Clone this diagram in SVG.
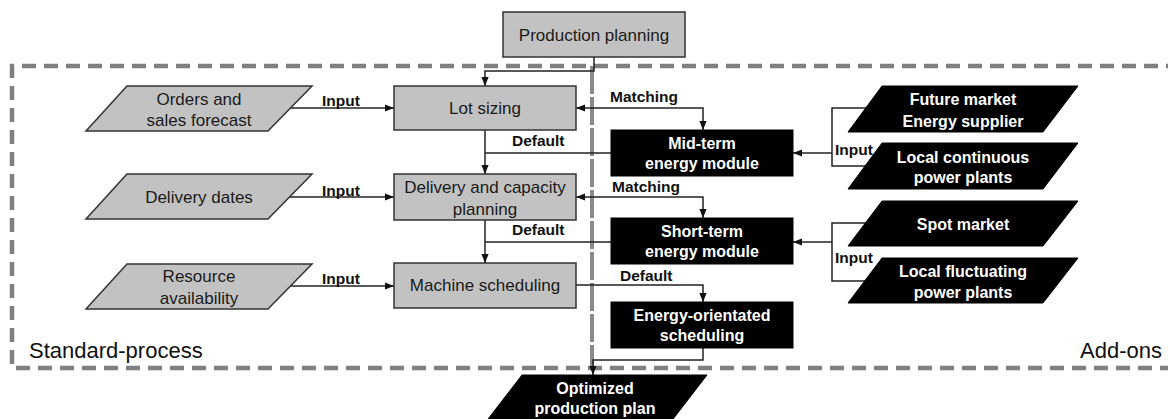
<svg xmlns="http://www.w3.org/2000/svg" width="1168" height="419" viewBox="0 0 1168 419">
<style>
text{font-family:"Liberation Sans",Arial,sans-serif;}
.gbox{fill:#c2c2c2;stroke:#333;stroke-width:1.5;}
.bbox{fill:#000;stroke:#000;stroke-width:1;}
.gt{font-size:17px;fill:#1a1a1a;text-anchor:middle;}
.wt{font-size:16px;font-weight:bold;fill:#fff;text-anchor:middle;}
.lbl{font-size:15.5px;font-weight:bold;fill:#111;}
.big{font-size:22px;fill:#111;}
.con{fill:none;stroke:#222;stroke-width:1.5;}
.dash{fill:none;stroke:#7f7f7f;stroke-width:4.5;stroke-dasharray:14 8;}
.div{fill:none;stroke:#8a8a8a;stroke-width:4;stroke-dasharray:28 3;}
</style>
<defs>
<marker id="arr" viewBox="0 0 10 8" markerWidth="9" markerHeight="8" refX="10" refY="4" orient="auto-start-reverse" markerUnits="userSpaceOnUse">
<path d="M0,0 L10,4 L0,8 z" fill="#111"/>
</marker>
</defs>
<rect width="1168" height="419" fill="#fff"/>
<g id="frame">
<path class="dash" d="M1180,66 H12 V368 H1180"/>
<path class="div" d="M592,66 V368"/>
<text class="big" x="29" y="358">Standard-process</text>
<text class="big" x="1080" y="358">Add-ons</text>
</g>
<g id="connectors">
<path class="con" d="M594,57 V71 H485 V86" marker-end="url(#arr)"/>
<path class="con" d="M290,108 H394" marker-end="url(#arr)"/>
<path class="con" d="M576,108 H703 V130" marker-start="url(#arr)" marker-end="url(#arr)"/>
<path class="con" d="M485,130 V174" marker-end="url(#arr)"/>
<path class="con" d="M611,153 H485"/>
<path class="con" d="M290,197 H394" marker-end="url(#arr)"/>
<path class="con" d="M576,197 H703 V218" marker-start="url(#arr)" marker-end="url(#arr)"/>
<path class="con" d="M485,220 V263" marker-end="url(#arr)"/>
<path class="con" d="M611,242 H485"/>
<path class="con" d="M290,286 H394" marker-end="url(#arr)"/>
<path class="con" d="M576,285 H703 V302" marker-end="url(#arr)"/>
<path class="con" d="M703,348 V360 H593 V375" marker-end="url(#arr)"/>
<path class="con" d="M866,108 H832 V166 H866"/>
<path class="con" d="M832,153 H793" marker-end="url(#arr)"/>
<path class="con" d="M866,223 H832 V281 H866"/>
<path class="con" d="M832,242 H793" marker-end="url(#arr)"/>
<text class="lbl" x="322" y="106">Input</text>
<text class="lbl" x="610" y="102">Matching</text>
<text class="lbl" x="512" y="146">Default</text>
<text class="lbl" x="322" y="196">Input</text>
<text class="lbl" x="612" y="192">Matching</text>
<text class="lbl" x="512" y="235">Default</text>
<text class="lbl" x="322" y="284">Input</text>
<text class="lbl" x="620" y="281">Default</text>
<text class="lbl" x="835" y="155">Input</text>
<text class="lbl" x="835" y="263">Input</text>
</g>
<g id="production-planning">
<rect class="gbox" x="503" y="12" width="182" height="45"/>
<text class="gt" x="594" y="41">Production planning</text>
</g>
<g id="orders">
<polygon class="gbox" points="127,86 312,86 268,131 86,131"/>
<text class="gt" x="199" y="105">Orders and</text>
<text class="gt" x="199" y="126">sales forecast</text>
</g>
<g id="delivery-dates">
<polygon class="gbox" points="127,174 312,174 268,219 86,219"/>
<text class="gt" x="199" y="203">Delivery dates</text>
</g>
<g id="resource">
<polygon class="gbox" points="127,264 312,264 268,309 86,309"/>
<text class="gt" x="199" y="282">Resource</text>
<text class="gt" x="199" y="304">availability</text>
</g>
<g id="lot-sizing">
<rect class="gbox" x="394" y="86" width="182" height="44"/>
<text class="gt" x="485" y="114">Lot sizing</text>
</g>
<g id="delivery-capacity">
<rect class="gbox" x="394" y="174" width="182" height="46"/>
<text class="gt" x="485" y="193">Delivery and capacity</text>
<text class="gt" x="485" y="215">planning</text>
</g>
<g id="machine-scheduling">
<rect class="gbox" x="394" y="263" width="182" height="45"/>
<text class="gt" x="485" y="291">Machine scheduling</text>
</g>
<g id="mid-term">
<rect class="bbox" x="611" y="130" width="182" height="46"/>
<text class="wt" x="702" y="149">Mid-term</text>
<text class="wt" x="702" y="169">energy module</text>
</g>
<g id="short-term">
<rect class="bbox" x="611" y="218" width="182" height="46"/>
<text class="wt" x="702" y="237">Short-term</text>
<text class="wt" x="702" y="257">energy module</text>
</g>
<g id="energy-scheduling">
<rect class="bbox" x="611" y="302" width="182" height="46"/>
<text class="wt" x="702" y="321">Energy-orientated</text>
<text class="wt" x="702" y="341">scheduling</text>
</g>
<g id="future-market">
<polygon class="bbox" points="882,86 1078,86 1043,132 848,132"/>
<text class="wt" x="963" y="105">Future market</text>
<text class="wt" x="963" y="127">Energy supplier</text>
</g>
<g id="local-continuous">
<polygon class="bbox" points="882,143 1078,143 1043,189 848,189"/>
<text class="wt" x="963" y="163">Local continuous</text>
<text class="wt" x="963" y="183">power plants</text>
</g>
<g id="spot-market">
<polygon class="bbox" points="882,201 1078,201 1043,246 848,246"/>
<text class="wt" x="963" y="230">Spot market</text>
</g>
<g id="local-fluctuating">
<polygon class="bbox" points="882,258 1078,258 1043,303 848,303"/>
<text class="wt" x="963" y="277">Local fluctuating</text>
<text class="wt" x="963" y="298">power plants</text>
</g>
<g id="optimized-plan">
<polygon class="bbox" points="522,375 707,375 670,423 485,423"/>
<text class="wt" x="595" y="394">Optimized</text>
<text class="wt" x="595" y="414">production plan</text>
</g>
</svg>
